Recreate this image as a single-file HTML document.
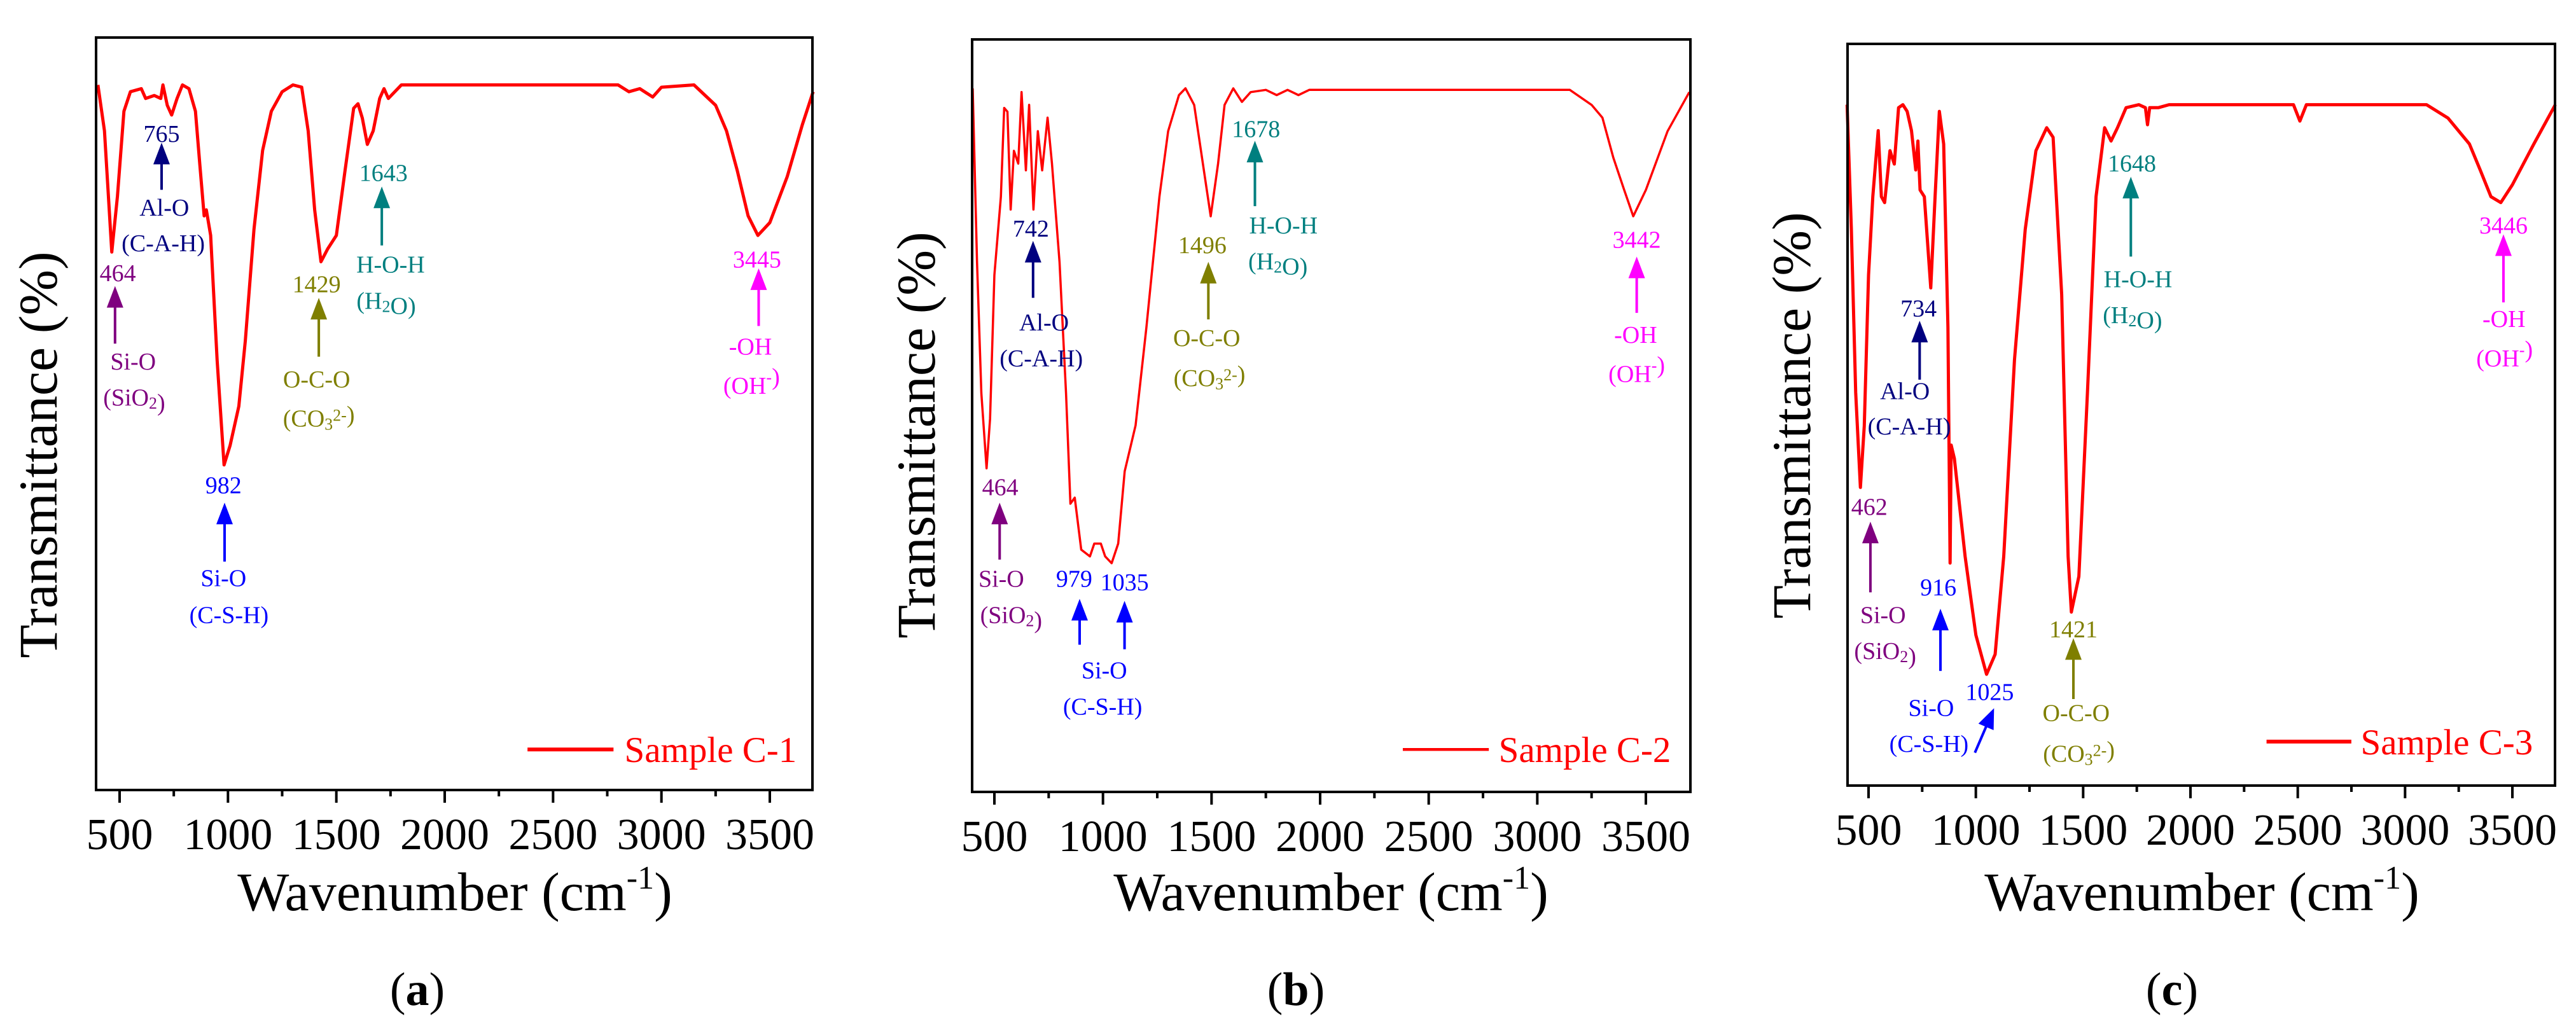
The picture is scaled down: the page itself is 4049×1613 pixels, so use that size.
<!DOCTYPE html>
<html><head><meta charset="utf-8">
<style>
html,body{margin:0;padding:0;background:#fff;}
svg{display:block;font-family:"Liberation Serif",serif;}
</style></head>
<body>
<svg id="fig" width="4049" height="1613" viewBox="0 0 4049 1613" xmlns="http://www.w3.org/2000/svg"></svg>
<script>
// ---- data (wavenumber cm^-1, transmittance in arbitrary % of frame height) ----
const wnA = [400,430,464,490,520,550,600,620,660,690,700,720,740,765,790,820,850,870,890,900,920,950,982,1010,1050,1080,1120,1160,1200,1250,1300,1340,1370,1400,1429,1460,1500,1540,1580,1600,1620,1643,1670,1700,1720,1740,1800,2800,2850,2900,2960,3000,3150,3250,3300,3350,3400,3445,3500,3580,3650,3700];
const tA = [93.7,87.6,71.5,78.9,90.2,92.8,93.2,91.9,92.3,91.9,93.7,91.0,89.7,91.9,93.7,93.2,90.2,83.2,76.3,77.1,73.7,57.1,43.2,45.8,51.0,59.7,74.5,85.0,90.2,92.8,93.7,93.4,87.6,77.1,70.2,71.9,73.7,82.3,90.6,91.2,89.3,85.8,87.6,91.9,93.2,91.9,93.7,93.7,92.8,93.2,92.1,93.4,93.7,91.0,87.6,82.3,76.3,73.7,75.4,81.5,88.4,92.8];
const wnB = [400,420,440,464,480,500,530,545,560,575,590,610,625,645,660,680,700,720,745,765,800,830,850,870,900,940,960,990,1010,1040,1070,1100,1150,1200,1260,1300,1350,1380,1420,1460,1496,1530,1560,1600,1640,1680,1750,1800,1850,1900,1950,3150,3250,3300,3350,3400,3442,3500,3600,3700];
const tB = [93.5,70.4,53.0,43.0,49.6,68.7,79.1,90.9,90.4,77.4,85.2,83.5,93.0,82.6,91.3,77.4,87.8,82.6,89.6,83.5,70.4,53.0,38.3,39.1,32.2,31.3,33.0,33.0,31.3,30.4,33.0,42.6,48.7,61.7,79.1,87.8,92.6,93.5,91.3,83.5,76.5,83.5,91.3,93.5,91.7,93.0,93.3,92.6,93.3,92.6,93.3,93.3,91.3,89.6,84.3,80.0,76.5,80.0,87.8,93.0];
const wnC = [400,420,440,462,480,500,520,545,560,575,600,620,640,660,680,700,720,730,740,760,790,810,830,850,870,880,885,900,920,950,1000,1050,1090,1130,1180,1230,1280,1330,1360,1400,1430,1445,1480,1520,1560,1600,1630,1660,1700,1760,1790,1800,1810,1850,1900,2480,2510,2540,3100,3200,3300,3350,3400,3446,3500,3600,3700];
const tC = [91.8,75.0,53.0,40.2,48.5,68.8,79.4,88.3,79.4,78.6,85.6,83.8,91.4,91.8,90.9,88.3,83.0,86.9,80.3,79.4,67.1,79.4,90.9,86.5,61.8,30.0,45.9,44.1,38.8,30.9,20.3,15.0,17.7,30.9,57.4,75.0,85.6,88.7,87.4,66.2,30.9,23.4,28.2,53.0,79.4,88.7,86.9,88.7,91.4,91.8,91.4,89.1,91.4,91.4,91.8,91.8,89.6,91.8,91.8,90.0,86.5,83.0,79.4,78.6,81.0,86.5,91.8];
const xTicks = [500,1000,1500,2000,2500,3000,3500];
const xMinor = [750,1250,1750,2250,2750,3250];
const legends = ["Sample C-1","Sample C-2","Sample C-3"];
const panelLetters = ["a","b","c"];

const NS = "http://www.w3.org/2000/svg";
const svg = document.getElementById('fig');
function mk(tag, attrs, parent){ const e=document.createElementNS(NS,tag); for(const k in attrs) e.setAttribute(k,attrs[k]); (parent||svg).appendChild(e); return e; }

const panels = [
 {off:0, sx:0.861, L:151,R:1277,T:59,B:1242, t500:188,t3500:1210, wn:wnA,t:tA, lw:5,
  ytx:60,yty:715, wtx:715, letx:656, leg:[963,1120,1145,1140],
  ann:[
   {c:"#00007f",lines:[["765",295,205],["Al-O",300,318],["(C-A-H)",298,372]],ar:[295,218,290]},
   {c:"#7f007f",lines:[["464",215,418],["Si-O",243,553],["(SiO|2|)",245,608]],ar:[210,437,525]},
   {c:"#0000ff",lines:[["982",408,742],["Si-O",408,884],["(C-S-H)",418,940]],ar:[410,768,858]},
   {c:"#7f7f00",lines:[["1429",578,435],["O-C-O",578,580],["(CO|3|^2-^)",582,640]],ar:[582,455,545]},
   {c:"#007f7f",lines:[["1643",700,265],["H-O-H",713,405],["(H|2|O)",705,460]],ar:[697,285,375]},
   {c:"#ff00ff",lines:[["3445",1382,397],["-OH",1370,530],["(OH^-^)",1372,590]],ar:[1385,410,498]}
  ]},
 {off:1350, sx:0.861, L:1528,R:2657,T:62,B:1245, t500:1563,t3500:2587, wn:wnB,t:tB, lw:3.5,
  ytx:1440,yty:684, wtx:2092, letx:2037, leg:[993,1150,1145,1168],
  ann:[
   {c:"#00007f",lines:[["742",314,350],["Al-O",338,493],["(C-A-H)",333,548]],ar:[318,368,455]},
   {c:"#7f007f",lines:[["464",258,745],["Si-O",260,885],["(SiO|2|)",278,940]],ar:[257,768,855]},
   {c:"#0000ff",lines:[["979",393,885],["1035",485,890],["Si-O",448,1025],["(C-S-H)",445,1080]],ar:[403,915,985]},
   {c:"#0000ff",lines:[],ar:[485,918,992]},
   {c:"#7f7f00",lines:[["1496",627,375],["O-C-O",635,517],["(CO|3|^2-^)",640,578]],ar:[638,400,488]},
   {c:"#007f7f",lines:[["1678",725,198],["H-O-H",775,345],["(H|2|O)",765,400]],ar:[723,215,315]},
   {c:"#ff00ff",lines:[["3442",1420,367],["-OH",1418,512],["(OH^-^)",1420,572]],ar:[1420,392,478]}
  ]},
 {off:2700, sx:0.860, L:2904,R:4016,T:69,B:1235, t500:2937,t3500:3949, wn:wnC,t:tC, lw:5,
  ytx:2816,yty:653, wtx:3461, letx:3414, leg:[1003,1158,1133,1175],
  ann:[
   {c:"#00007f",lines:[["734",367,472],["Al-O",342,598],["(C-A-H)",350,652]],ar:[369,490,580]},
   {c:"#7f007f",lines:[["462",277,775],["Si-O",302,940],["(SiO|2|)",306,995]],ar:[279,797,905]},
   {c:"#0000ff",lines:[["916",403,898],["Si-O",390,1082],["(C-S-H)",386,1137],["1025",497,1058]],ar:[407,930,1025]},
   {c:"#0000ff",lines:[],diag:[505,1082,470,1150]},
   {c:"#7f7f00",lines:[["1421",650,962],["O-C-O",655,1090],["(CO|3|^2-^)",660,1152]],ar:[650,975,1068]},
   {c:"#007f7f",lines:[["1648",757,250],["H-O-H",768,427],["(H|2|O)",758,482]],ar:[755,270,392]},
   {c:"#ff00ff",lines:[["3446",1436,345],["-OH",1437,488],["(OH^-^)",1438,548]],ar:[1436,358,462]}
  ]}
];

const SY = 1.029;
panels.forEach((p,pi)=>{
  const g = mk('g',{});
  
  
  const xs = wn => p.t500 + (wn-500)*(p.t3500-p.t500)/3000;
  const ys = t => p.B - t/100*(p.B-p.T);
  const zx = v => p.off + v*p.sx;
  const zy = v => v*SY;

  // spectrum
  let d = '';
  p.wn.forEach((w,i)=>{ d += (i?'L':'M') + xs(w).toFixed(1)+','+ys(p.t[i]).toFixed(1); });
  const line = mk('path',{d:d,fill:'none',stroke:'#ff0000','stroke-width':p.lw,'stroke-linejoin':'round'},g);
  
  

  // frame
  const fr = mk('rect',{x:p.L,y:p.T,width:p.R-p.L,height:p.B-p.T,fill:'none',stroke:'#000','stroke-width':4},g);
  
  

  // ticks
  xTicks.forEach(v=>{
    const x = xs(v);
    mk('line',{x1:x,x2:x,y1:p.B,y2:p.B+20,stroke:'#000','stroke-width':4},g);
    const tl = mk('text',{x:x,y:p.B+93,'font-size':70,'text-anchor':'middle',fill:'#000'},g);
    tl.textContent = v;
    
    
  });
  xMinor.forEach(v=>{
    const x = xs(v);
    mk('line',{x1:x,x2:x,y1:p.B,y2:p.B+10,stroke:'#000','stroke-width':4},g);
  });

  // axis titles
  const xt = mk('text',{x:p.wtx,y:1431,'font-size':86,'text-anchor':'middle',fill:'#000'},g);
  xt.innerHTML = 'Wavenumber (cm<tspan dy="-34" font-size="52">-1</tspan><tspan dy="34">)</tspan>';
  
  
  const yt = mk('text',{x:0,y:0,'font-size':86,'text-anchor':'middle','dominant-baseline':'central',fill:'#000',transform:`translate(${p.ytx},${p.yty}) rotate(-90)`},g);
  yt.textContent = 'Transmittance (%)';
  
  

  // panel letter
  const pl = mk('text',{x:p.letx,y:1580,'font-size':74,'text-anchor':'middle',fill:'#000'},g);
  pl.innerHTML = '(<tspan font-weight="bold">'+panelLetters[pi]+'</tspan>)';
  
  

  // legend
  const lg = p.leg;
  const ll = mk('line',{x1:zx(lg[0]),x2:zx(lg[1]),y1:zy(lg[2]),y2:zy(lg[2]),stroke:'#ff0000','stroke-width':p.lw+1},g);
  
  
  const lt = mk('text',{x:zx(lg[3]),y:zy(lg[2])+20,'font-size':57,fill:'#ff0000'},g);
  lt.textContent = legends[pi];
  
  

  // annotations
  p.ann.forEach(a=>{
    a.lines.forEach(l=>{
      const t = mk('text',{x:zx(l[1]),y:zy(l[2]),'font-size':38,'text-anchor':'middle','dominant-baseline':'central',fill:a.c},g);
      let s = l[0];
      s = s.replace(/\|(\w+)\|/g,'<tspan font-size="26" dy="8">$1</tspan><tspan dy="-8"></tspan>');
      s = s.replace(/\^([^\^]+)\^/g,'<tspan font-size="26" dy="-14">$1</tspan><tspan dy="14"></tspan>');
      t.innerHTML = s;
      
      
    });
    if(a.ar){
      const x = zx(a.ar[0]), y1 = zy(a.ar[1]), y2 = zy(a.ar[2]);
      const ar = mk('g',{},g);
      
      
      mk('line',{x1:x,x2:x,y1:y1+30,y2:y2,stroke:a.c,'stroke-width':4},ar);
      mk('polygon',{points:`${x},${y1} ${x-13},${y1+34} ${x+13},${y1+34}`,fill:a.c},ar);
    }
    if(a.diag){
      const x1=zx(a.diag[0]),y1=zy(a.diag[1]),x2=zx(a.diag[2]),y2=zy(a.diag[3]);
      const ang=Math.atan2(y1-y2,x1-x2);
      const ar = mk('g',{},g);
      
      
      mk('line',{x1:x2,y1:y2,x2:x1-26*Math.cos(ang),y2:y1-26*Math.sin(ang),stroke:a.c,'stroke-width':4},ar);
      const bx=x1-32*Math.cos(ang), by=y1-32*Math.sin(ang), nx=-Math.sin(ang)*13, ny=Math.cos(ang)*13;
      mk('polygon',{points:`${x1},${y1} ${bx+nx},${by+ny} ${bx-nx},${by-ny}`,fill:a.c},ar);
    }
  });
});
</script>
</body></html>
